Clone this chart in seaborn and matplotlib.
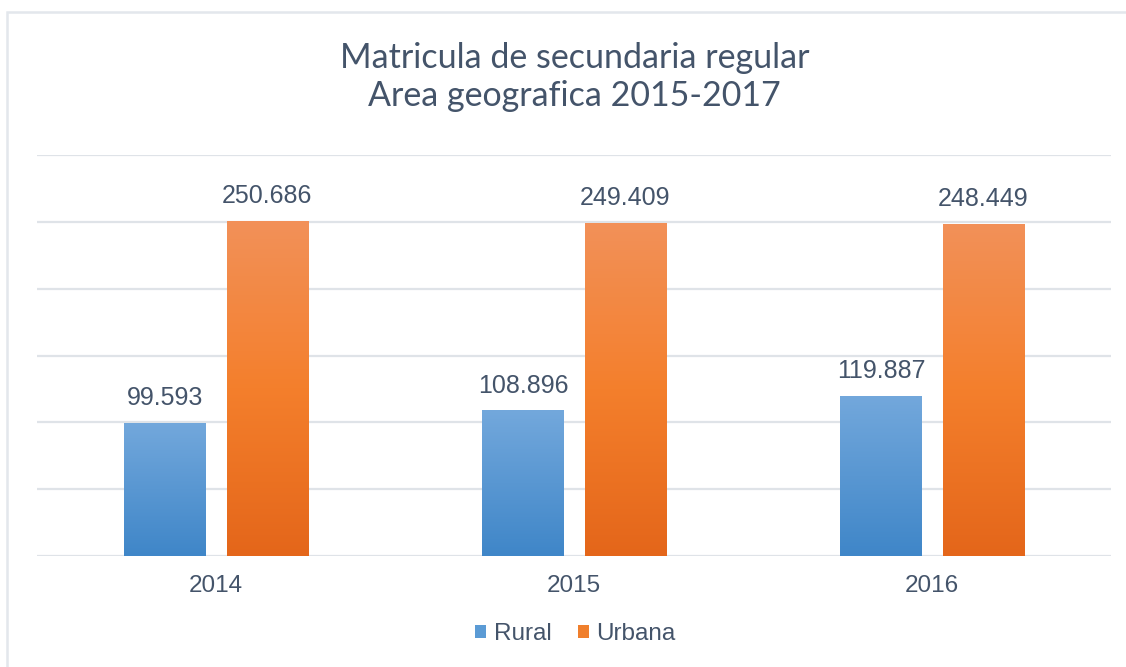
import numpy as np
import pandas as pd
import matplotlib
matplotlib.use("Agg")
import matplotlib.pyplot as plt
import seaborn as sns
from matplotlib.colors import LinearSegmentedColormap
from matplotlib.patches import Rectangle, Patch

years = ["2014", "2015", "2016"]
series = ["Rural", "Urbana"]
rural = [99593, 108896, 119887]
urbana = [250686, 249409, 248449]
title_lines = ["Matricula de secundaria regular", "Area geografica 2015-2017"]

df = pd.DataFrame({
    "year": years * 2,
    "area": [series[0]] * 3 + [series[1]] * 3,
    "value": rural + urbana,
})

sns.set_theme(style="white")
plt.rcParams["font.family"] = ["Liberation Sans", "DejaVu Sans"]

text_col = "#44546a"
grid_col = "#dfe3e8"
mid_cols = {"Rural": "#5b9bd5", "Urbana": "#f07f2c"}
grads = {
    "Rural": ("#73a8dc", "#3f86c8"),
    "Urbana": ("#f29159", "#f47f2c", "#e4661a"),
}

fig = plt.figure(figsize=(11.26, 6.67), dpi=100)
fig.patch.set_facecolor("white")
ax = fig.add_axes([37 / 1126, 1 - 556 / 667, (1111 - 37) / 1126, (556 - 155) / 667])

sns.barplot(data=df, x="year", y="value", hue="area", order=years,
            hue_order=series, palette=mid_cols, width=0.57, gap=0.206,
            ax=ax, legend=False, zorder=3)

ax.set_ylim(0, 300000)
ax.set_xlim(-0.5, 2.5)
ax.set_yticks(np.arange(0, 300001, 50000))
ax.yaxis.grid(True, color=grid_col, linewidth=1.6, zorder=0)
ax.set_axisbelow(True)
for s in ax.spines.values():
    s.set_visible(False)
ax.tick_params(axis="y", left=False, labelleft=False)
ax.tick_params(axis="x", length=0, pad=14, labelsize=17.5, labelcolor=text_col)
ax.set_xlabel("")
ax.set_ylabel("")

# gradient fill on each bar
for cont, name in zip(ax.containers, series):
    cmap = LinearSegmentedColormap.from_list(name, list(grads[name])[::-1])
    for p in cont.patches:
        x, w, h = p.get_x(), p.get_width(), p.get_height()
        p.set_edgecolor("none")
        img = ax.imshow(np.linspace(0, 1, 256).reshape(-1, 1), cmap=cmap,
                        extent=[x, x + w, 0, h], origin="lower", aspect="auto",
                        zorder=4)
        img.set_clip_path(p)
    labels = [f"{v:,.0f}".replace(",", ".") for v in cont.datavalues]
    ax.bar_label(cont, labels=labels, padding=9, fontsize=18, color=text_col,
                 zorder=5)

ax.set_ylim(0, 300000)
ax.set_xlim(-0.5, 2.5)

handles = [Patch(facecolor=mid_cols[s], edgecolor="none") for s in series]
fig.legend(handles, series, loc="center", bbox_to_anchor=(0.511, 1 - 634 / 667),
           ncol=2, frameon=False, fontsize=17.5, labelcolor=text_col,
           handlelength=0.45, handleheight=0.45, handletextpad=0.3,
           columnspacing=1.1)

fig.text(0.51, 1 - 77 / 667, "\n".join(title_lines), ha="center", va="center",
         fontsize=24.5, color=text_col, family=["Lato", "DejaVu Sans"],
         linespacing=1.25)

# outer chart frame
fig.add_artist(Rectangle((7 / 1126, -0.05), 1.2, 1 - 12 / 667 + 0.05,
                         transform=fig.transFigure, fill=False,
                         edgecolor="#e3e7ec", linewidth=1.8))

fig.savefig("out.png", dpi=100, facecolor="white")
